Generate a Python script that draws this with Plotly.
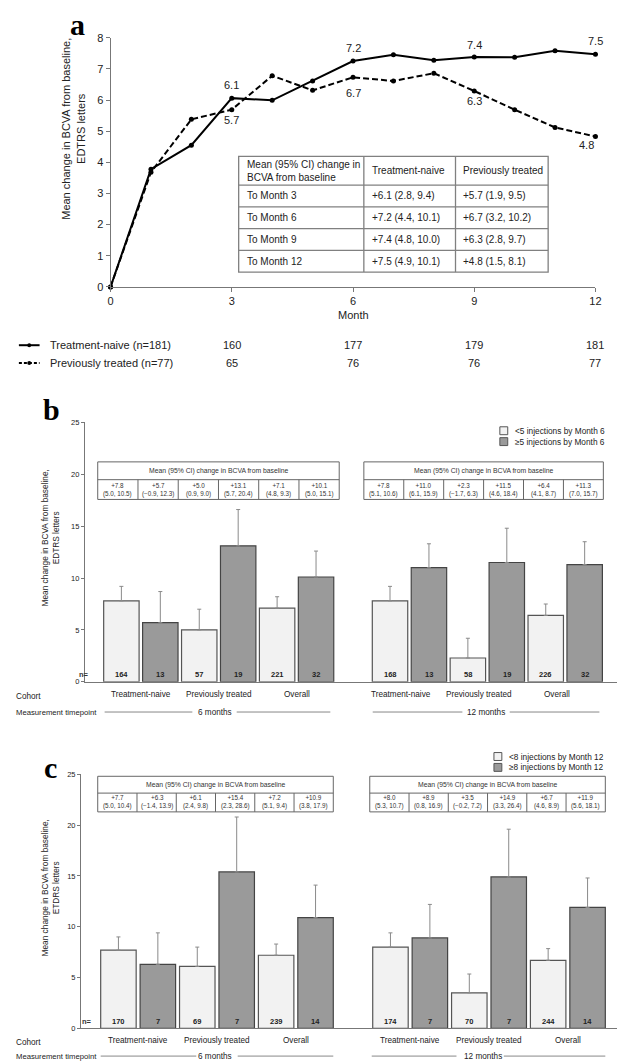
import plotly.graph_objects as go

W, H = 625, 1062
FONT = "Liberation Sans, Arial, sans-serif"
SERIF = "Liberation Serif, Times New Roman, serif"
TXT = "#222222"
AXC = "#777777"
LIGHT = "#f2f2f2"
DARK = "#9a9a9a"
EDGE = "#555555"

# ---------------- Panel a data ----------------
months = [0, 1, 2, 3, 4, 5, 6, 7, 8, 9, 10, 11, 12]
naive_mean = [0, 3.78, 4.55, 6.06, 5.99, 6.61, 7.25, 7.45, 7.28, 7.38, 7.37, 7.58, 7.47]
prev_mean = [0, 3.68, 5.38, 5.69, 6.78, 6.31, 6.73, 6.61, 6.86, 6.29, 5.69, 5.12, 4.83]
label_months = [3, 6, 9, 12]
naive_label_vals = [6.1, 7.2, 7.4, 7.5]
prev_label_vals = [5.7, 6.7, 6.3, 4.8]
naive_counts = [160, 177, 179, 181]
prev_counts = [65, 76, 76, 77]
a_tick_months = [0, 3, 6, 9, 12]
a_series_names = ["Treatment-naive (n=181)", "Previously treated (n=77)"]
a_table_header = ["Mean (95% CI) change in<br>BCVA from baseline", "Treatment-naive", "Previously treated"]
a_table_rows = ["To Month 3", "To Month 6", "To Month 9", "To Month 12"]
a_naive_ci_mean = [6.1, 7.2, 7.4, 7.5]
a_naive_ci_low = [2.8, 4.4, 4.8, 4.9]
a_naive_ci_high = [9.4, 10.1, 10.0, 10.1]
a_prev_ci_mean = [5.7, 6.7, 6.3, 4.8]
a_prev_ci_low = [1.9, 3.2, 2.8, 1.5]
a_prev_ci_high = [9.5, 10.2, 9.7, 8.1]

# ---------------- Panel b / c data ----------------
cohorts = ["Treatment-naive", "Previously treated", "Overall"]
timepoints = ["6 months", "12 months"]
ci_header = "Mean (95% CI) change in BCVA from baseline"

# bar order within a timepoint: cohort1 low-inj, cohort1 high-inj, cohort2 low, ...
b_mean_6m = [7.8, 5.7, 5.0, 13.1, 7.1, 10.1]
b_low_6m = [5.0, -0.9, 0.9, 5.7, 4.8, 5.0]
b_high_6m = [10.5, 12.3, 9.0, 20.4, 9.3, 15.1]
b_err_6m = [1.4, 3.0, 2.0, 3.5, 1.1, 2.5]
b_n_6m = [164, 13, 57, 19, 221, 32]
b_mean_12m = [7.8, 11.0, 2.3, 11.5, 6.4, 11.3]
b_low_12m = [5.1, 6.1, -1.7, 4.6, 4.1, 7.0]
b_high_12m = [10.6, 15.9, 6.3, 18.4, 8.7, 15.7]
b_err_12m = [1.4, 2.3, 1.9, 3.3, 1.1, 2.2]
b_n_12m = [168, 13, 58, 19, 226, 32]
b_legend = ["<5 injections by Month 6", "≥5 injections by Month 6"]

c_mean_6m = [7.7, 6.3, 6.1, 15.4, 7.2, 10.9]
c_low_6m = [5.0, -1.4, 2.4, 2.3, 5.1, 3.8]
c_high_6m = [10.4, 13.9, 9.8, 28.6, 9.4, 17.9]
c_err_6m = [1.3, 3.1, 1.9, 5.4, 1.1, 3.2]
c_n_6m = [170, 7, 69, 7, 239, 14]
c_mean_12m = [8.0, 8.9, 3.5, 14.9, 6.7, 11.9]
c_low_12m = [5.3, 0.8, -0.2, 3.3, 4.6, 5.6]
c_high_12m = [10.7, 16.9, 7.2, 26.4, 8.9, 18.1]
c_err_12m = [1.4, 3.3, 1.85, 4.7, 1.15, 2.9]
c_n_12m = [174, 7, 70, 7, 244, 14]
c_legend = ["<8 injections by Month 12", "≥8 injections by Month 12"]
bar_ticks = [0, 5, 10, 15, 20, 25]


def px(x):
    return x / W


def py(y):
    return 1 - y / H


def fmt(v):
    s = f"{v:.1f}"
    return s.replace("-", "\u2212")


fig = go.Figure()
annotations = []
shapes = []


def ann(text, x, y, size, xanchor="center", yanchor="middle", xref="paper", yref="paper",
        color=TXT, angle=0, family=FONT, **kw):
    xx = px(x) if xref == "paper" else x
    yy = py(y) if yref == "paper" else y
    annotations.append(dict(text=text, x=xx, y=yy, xref=xref, yref=yref, xanchor=xanchor,
                            yanchor=yanchor, showarrow=False, textangle=angle,
                            font=dict(size=size, color=color, family=family), **kw))


def line(x0, y0, x1, y1, color=EDGE, width=1, dash=None):
    d = dict(type="line", x0=px(x0), x1=px(x1), y0=py(y0), y1=py(y1),
             xref="paper", yref="paper", line=dict(color=color, width=width))
    if dash:
        d["line"]["dash"] = dash
    shapes.append(d)


def rect(x0, y0, x1, y1, fill="white", color=EDGE, width=1):
    shapes.append(dict(type="rect", x0=px(x0), x1=px(x1), y0=py(y0), y1=py(y1), xref="paper",
                       yref="paper", fillcolor=fill, line=dict(color=color, width=width)))


# ================= Panel a =================
fig.add_trace(go.Scatter(x=months, y=naive_mean, mode="lines+markers", xaxis="x", yaxis="y",
                         line=dict(color="black", width=2), marker=dict(size=5, color="black"),
                         cliponaxis=False, showlegend=False))
fig.add_trace(go.Scatter(x=months, y=prev_mean, mode="lines+markers", xaxis="x", yaxis="y",
                         line=dict(color="black", width=2, dash="6px,3px"),
                         marker=dict(size=5, color="black"), cliponaxis=False, showlegend=False))

naive_shift = [13, 13, 12, 13]
prev_shift = [-10, -16, -10, -9]
prev_xshift = [0, 0, 0, -9]
for i, m in enumerate(label_months):
    ann(f"{naive_label_vals[i]:.1f}", m, naive_mean[m], 11, xref="x", yref="y", yshift=naive_shift[i])
    ann(f"{prev_label_vals[i]:.1f}", m, prev_mean[m], 11, xref="x", yref="y", yshift=prev_shift[i],
        xshift=prev_xshift[i])

ann("<b>a</b>", 67, 11, 30, family=SERIF, color="black")
ann("Mean change in BCVA from baseline,<br>EDTRS letters", 63, 116, 11, angle=-90)
ann("Month", 347, 304, 11)

# table in panel a
ax_edges = [231, 358, 451, 545]
ay_edges = [144, 173, 195, 217, 239, 261]
rect(ax_edges[0], ay_edges[0], ax_edges[-1], ay_edges[-1], color="#808080", width=1.3)
for yv in ay_edges[1:-1]:
    line(ax_edges[0], yv, ax_edges[-1], yv, color="#808080", width=1.3)
for xv in ax_edges[1:-1]:
    line(xv, ay_edges[0], xv, ay_edges[-1], color="#808080", width=1.3)
for j, h in enumerate(a_table_header):
    ann(h, ax_edges[j] + 6, (ay_edges[0] + ay_edges[1]) / 2, 10, xanchor="left", align="left")
for i, r in enumerate(a_table_rows):
    yc = (ay_edges[i + 1] + ay_edges[i + 2]) / 2
    ann(r, ax_edges[0] + 6, yc, 10, xanchor="left")
    ann(f"+{a_naive_ci_mean[i]:.1f} ({a_naive_ci_low[i]:.1f}, {a_naive_ci_high[i]:.1f})",
        ax_edges[1] + 6, yc, 10, xanchor="left")
    ann(f"+{a_prev_ci_mean[i]:.1f} ({a_prev_ci_low[i]:.1f}, {a_prev_ci_high[i]:.1f})",
        ax_edges[2] + 6, yc, 10, xanchor="left")

# legend / number at risk rows
for k, (yrow, dash, counts) in enumerate([(335, None, naive_counts), (353, "3px,2px", prev_counts)]):
    line(8, yrow, 29, yrow, color="black", width=2, dash=dash)
    shapes.append(dict(type="circle", xref="paper", yref="paper", x0=px(16.5), x1=px(20.5),
                       y0=py(yrow + 2), y1=py(yrow - 2), fillcolor="black", line=dict(width=0)))
    ann(a_series_names[k], 38, yrow, 11, xanchor="left")
    for m, cnt in zip(label_months, counts):
        ann(str(cnt), m, yrow, 11, xref="x")


# ================= Panels b and c =================
def bar_panel(k, means, errs, ns, lows, highs, legend, cfg):
    xa = f"x{k}"
    ya = f"y{k}"
    gap = 0.9
    slots = [[i + t * (6 + gap) for i in range(6)] for t in range(2)]
    for d in range(2):  # 0 = light (fewer injections), 1 = dark
        xs, ys, es = [], [], []
        for t in range(2):
            for i in range(d, 6, 2):
                xs.append(slots[t][i])
                ys.append(means[t][i])
                es.append(errs[t][i])
        fig.add_trace(go.Bar(x=xs, y=ys, xaxis=xa, yaxis=ya, width=cfg["bw"],
                             marker=dict(color=LIGHT if d == 0 else DARK,
                                         line=dict(color=EDGE if d == 0 else "#444444", width=1.2)),
                             error_y=dict(type="data", symmetric=False, array=es,
                                          arrayminus=[0] * len(es), color="#8a8a8a",
                                          thickness=1, width=2),
                             showlegend=False))
    # n labels
    ann("<b>n=</b>", cfg["nx"], cfg["ny"], 7.5, color="#333")
    for t in range(2):
        for i in range(6):
            ann(f"<b>{ns[t][i]}</b>", slots[t][i], cfg["ny"], 7.5, xref=xa, color="#222")
        # cohort labels
        for g in range(3):
            ann(cohorts[g], (slots[t][2 * g] + slots[t][2 * g + 1]) / 2, cfg["cy"], 8.2, xref=xa,
                xshift=cfg["cshift"][t])
    ann("Cohort", 3, cfg["cy"] + 2, 8.2, xanchor="left")
    ann("Measurement timepoint", 3, cfg["my"], 7.7, xanchor="left")
    for t in range(2):
        l0, l1, tc, r0, r1 = cfg["mlines"][t]
        line(l0, cfg["my"], l1, cfg["my"], color="#888", width=1)
        line(r0, cfg["my"], r1, cfg["my"], color="#888", width=1)
        ann(timepoints[t], tc, cfg["my"], 8.2)
    # CI tables
    yt, ym, yb = cfg["ty"]
    for t in range(2):
        x0, x1 = cfg["tx"][t]
        rect(x0, yt, x1, yb, color="#666", width=1)
        line(x0, ym, x1, ym, color="#666", width=1)
        cw = (x1 - x0) / 6
        for i in range(1, 6):
            line(x0 + i * cw, ym, x0 + i * cw, yb, color="#666", width=1)
        ann(ci_header, (x0 + x1) / 2, (yt + ym) / 2 + 0.5, 6.8, color="#333")
        for i in range(6):
            ann(f"+{means[t][i]:.1f}<br>({fmt(lows[t][i])}, {fmt(highs[t][i])})",
                x0 + (i + 0.5) * cw, (ym + yb) / 2, 6.3, color="#333")
    # legend
    for d in range(2):
        bx, by = cfg["leg"]
        yy = by + d * 11
        shapes.append(dict(type="rect", xref="paper", yref="paper", x0=px(bx), x1=px(bx + 8),
                           y0=py(yy + 4), y1=py(yy - 4), fillcolor=LIGHT if d == 0 else DARK,
                           line=dict(color=EDGE, width=1)))
        ann(legend[d], bx + 13, yy, 8.3, xanchor="left")
    # panel letter and axis title
    ann("<b>" + cfg["letter"] + "</b>", cfg["lx"], cfg["ly"], 30, family=SERIF, color="black")
    ann(cfg["ytitle"], cfg["tx_title"], cfg["ty_title"], 8.3, angle=-90)


cfg_b = dict(bw=0.91, nx=74, ny=668, cy=688, my=706, cshift=[0, -8],
             mlines=[(95, 184, 207, 229, 324), (367, 458, 482, 506, 597)],
             ty=(453, 471, 491), tx=[(88, 333), (358, 601)], leg=(496, 421.5),
             letter="b", lx=41, ly=400, ytitle="Mean change in BCVA from baseline,<br>EDTRS letters",
             tx_title=40, ty_title=530)
cfg_c = dict(bw=0.9, nx=77, ny=1019, cy=1038, my=1054, cshift=[0, 0],
             mlines=[(91, 188, 207, 230, 327), (366, 452, 479, 500, 603)],
             ty=(771, 788, 807), tx=[(88, 327), (364, 603)], leg=(490, 751),
             letter="c", lx=40, ly=762, ytitle="Mean change in BCVA from baseline,<br>ETDRS letters",
             tx_title=40, ty_title=884)

bar_panel(2, [b_mean_6m, b_mean_12m], [b_err_6m, b_err_12m], [b_n_6m, b_n_12m],
          [b_low_6m, b_low_12m], [b_high_6m, b_high_12m], b_legend, cfg_b)
bar_panel(3, [c_mean_6m, c_mean_12m], [c_err_6m, c_err_12m], [c_n_6m, c_n_12m],
          [c_low_6m, c_low_12m], [c_high_6m, c_high_12m], c_legend, cfg_c)

axis_common = dict(showgrid=False, zeroline=False, showline=True, linecolor=AXC, linewidth=1,
                   ticks="outside", tickcolor=AXC, tickfont=dict(family=FONT, color=TXT))

fig.update_layout(
    width=W, height=H, autosize=False, margin=dict(l=0, r=0, t=0, b=0),
    paper_bgcolor="white", plot_bgcolor="white", barmode="overlay", showlegend=False,
    font=dict(family=FONT, color=TXT),
    xaxis=dict(domain=[px(101), px(593)], range=[0, 12], tickvals=a_tick_months, ticklen=4,
               anchor="y", **{**axis_common, "tickfont": dict(family=FONT, color=TXT, size=11)}),
    yaxis=dict(domain=[py(276), py(24)], range=[0, 8], dtick=1, ticklen=4, anchor="x",
               **{**axis_common, "tickfont": dict(family=FONT, color=TXT, size=11)}),
    xaxis2=dict(domain=[px(75), px(622)], range=[(75 - 112) / 39.5, (622 - 112) / 39.5],
                anchor="y2", showticklabels=False, **{**axis_common, "ticks": ""}),
    yaxis2=dict(domain=[py(675.5), py(413)], range=[0, 25], tickvals=bar_ticks, ticklen=3,
                anchor="x2", **{**axis_common, "tickfont": dict(family=FONT, color=TXT, size=7.5)}),
    xaxis3=dict(domain=[px(71), px(622)], range=[(71 - 109) / 40, (622 - 109) / 40],
                anchor="y3", showticklabels=False, **{**axis_common, "ticks": ""}),
    yaxis3=dict(domain=[py(1026), py(769)], range=[0, 25], tickvals=bar_ticks, ticklen=3,
                anchor="x3", **{**axis_common, "tickfont": dict(family=FONT, color=TXT, size=7.5)}),
    annotations=annotations, shapes=shapes,
)

fig.write_html("out.html")
